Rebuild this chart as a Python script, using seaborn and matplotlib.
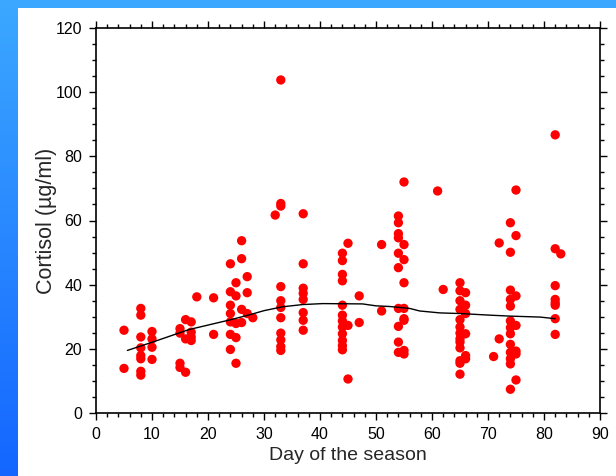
import numpy as np
import pandas as pd
import matplotlib
matplotlib.use("Agg")
import matplotlib.pyplot as plt
import seaborn as sns
from matplotlib.patches import Rectangle
from matplotlib.colors import LinearSegmentedColormap
from matplotlib.ticker import MultipleLocator

# 数据：每头动物的采样日与皮质醇浓度
day = [5, 5,
       8, 8, 8, 8, 8, 8, 8, 8,
       10, 10, 10, 10,
       15, 15, 15, 15,
       16, 16, 16,
       17, 17, 17, 17,
       18, 21, 21,
       24, 24, 24, 24, 24, 24, 24,
       25, 25, 25, 25, 25,
       26, 26, 26, 26,
       27, 27, 27,
       28, 32,
       33, 33, 33, 33, 33, 33, 33, 33, 33, 33, 33,
       37, 37, 37, 37, 37, 37, 37, 37,
       44, 44, 44, 44, 44, 44, 44, 44, 44, 44, 44, 44,
       45, 45, 45,
       47, 47,
       51, 51,
       54, 54, 54, 54, 54, 54, 54, 54, 54, 54,
       55, 55, 55, 55, 55, 55, 55, 55, 55,
       61, 62,
       65, 65, 65, 65, 65, 65, 65, 65, 65, 65, 65, 65, 65,
       66, 66, 66, 66, 66, 66,
       71, 72, 72,
       74, 74, 74, 74, 74, 74, 74, 74, 74, 74, 74, 74, 74,
       75, 75, 75, 75, 75, 75, 75,
       82, 82, 82, 82, 82, 82, 82, 82,
       83]

cortisol = [25.8, 13.9,
            32.6, 30.5, 23.7, 20.3, 17.9, 16.9, 13.0, 11.8,
            25.4, 23.1, 20.5, 16.7,
            26.3, 24.9, 15.5, 14.2,
            29.1, 23.1, 12.7,
            28.4, 25.2, 23.7, 22.6,
            36.2, 35.9, 24.5,
            46.5, 37.8, 33.6, 31.0, 28.4, 24.5, 19.8,
            40.6, 36.5, 27.9, 23.5, 15.5,
            53.7, 48.1, 32.3, 28.2,
            42.5, 37.5, 31.0,
            29.7, 61.7,
            103.8, 65.3, 64.5, 39.4, 35.0, 32.9, 29.7, 24.9, 22.8, 20.7, 19.5,
            62.1, 46.5, 38.9, 37.3, 35.4, 31.3, 28.9, 25.8,
            49.8, 47.5, 43.2, 41.2, 33.6, 30.5, 28.7, 26.8, 24.7, 22.6, 21.0, 19.7,
            52.9, 27.3, 10.6,
            36.5, 28.2,
            52.5, 31.8,
            61.4, 59.3, 55.9, 54.6, 49.8, 45.3, 32.6, 27.0, 22.1, 18.9,
            72.0, 52.5, 47.8, 40.6, 32.6, 29.4, 28.9, 19.5, 18.4,
            69.2, 38.5,
            40.6, 38.1, 35.0, 32.3, 29.1, 26.8, 24.9, 23.1, 22.1, 20.3, 16.3, 15.5, 12.1,
            37.5, 33.6, 31.0, 24.7, 17.9, 16.9,
            17.6, 53.0, 23.1,
            59.3, 50.1, 38.3, 35.4, 33.3, 28.7, 26.6, 24.7, 21.4, 18.9, 16.9, 15.3, 7.4,
            69.5, 55.3, 36.5, 27.3, 19.3, 18.4, 10.3,
            86.7, 51.2, 39.7, 35.4, 34.3, 33.6, 29.4, 24.5,
            49.6]

# 平滑曲线
smooth_day = [5.6, 10.1, 16.6, 21.2, 24.1, 27.4, 30.0, 33.3, 36.9, 40.5,
              47.6, 50.0, 52.4, 56.0, 57.8, 61.4, 65.0, 70.3, 73.9, 79.3, 82.0]
smooth_cortisol = [19.5, 22.1, 26.0, 27.9, 29.1, 30.6, 31.9, 33.1, 33.8, 34.1,
                   34.0, 33.4, 33.2, 32.6, 31.8, 31.2, 31.0, 30.5, 30.2, 29.9, 29.4]

df = pd.DataFrame({"day": day, "cortisol": cortisol})
df_smooth = pd.DataFrame({"day": smooth_day, "cortisol": smooth_cortisol})

sns.set_style("ticks")
plt.rcParams['font.family'] = ['Liberation Sans', 'DejaVu Sans']

fig = plt.figure(figsize=(6.16, 4.76), dpi=100)

# 背景：蓝色渐变 + 白色面板
bg = fig.add_axes([0, 0, 1, 1], zorder=-10)
cmap = LinearSegmentedColormap.from_list("bluebg", ["#3ca8ff", "#1466ff"])
bg.imshow(np.linspace(0, 1, 256).reshape(-1, 1), aspect="auto", cmap=cmap,
          extent=[0, 1, 0, 1])
bg.set_xlim(0, 1)
bg.set_ylim(0, 1)
bg.axis("off")
bg.add_patch(Rectangle((18 / 616, 0), 1, 1 - 8 / 476, facecolor="white",
                       edgecolor="none"))

ax = fig.add_axes([96 / 616, 1 - 413 / 476, 504 / 616, 385 / 476])
ax.set_facecolor("none")

sns.scatterplot(data=df, x="day", y="cortisol", color="#ff0000", s=45,
                edgecolor="none", linewidth=0, ax=ax, zorder=3)
sns.lineplot(data=df_smooth, x="day", y="cortisol", color="black", lw=1.0,
             ax=ax, zorder=4)

ax.set_xlim(0, 90)
ax.set_ylim(0, 120)
ax.xaxis.set_major_locator(MultipleLocator(10))
ax.xaxis.set_minor_locator(MultipleLocator(2))
ax.yaxis.set_major_locator(MultipleLocator(20))
ax.yaxis.set_minor_locator(MultipleLocator(5))
ax.tick_params(which="both", direction="out", top=True, right=True,
               labeltop=False, labelright=False, width=1, colors="black",
               labelsize=11.5)
ax.tick_params(which="major", length=5, pad=5)
ax.tick_params(which="minor", length=3)
for sp in ax.spines.values():
    sp.set_visible(True)
    sp.set_linewidth(1.2)
    sp.set_color("black")

ax.set_xlabel("Day of the season", fontsize=14, labelpad=4)
ax.set_ylabel("Cortisol (µg/ml)", fontsize=15.5, labelpad=-1)

fig.savefig("out.png", dpi=100)
